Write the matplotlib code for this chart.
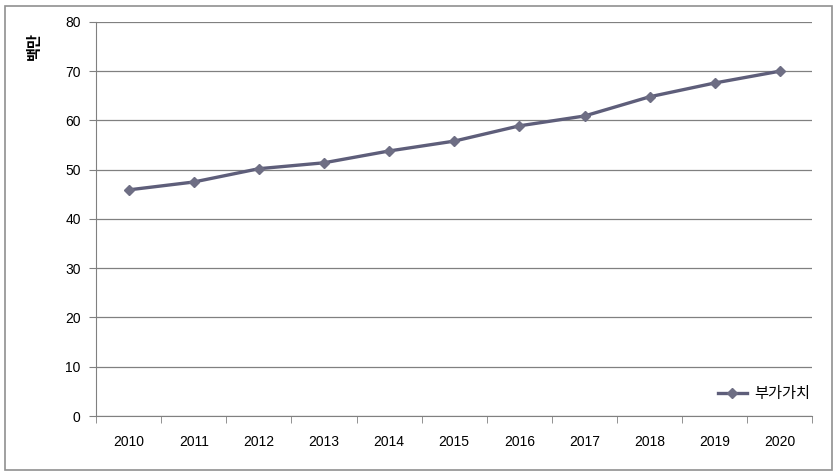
import numpy as np
import matplotlib.pyplot as plt
from matplotlib.patches import Rectangle

plt.rcParams['font.family'] = ['Liberation Sans', 'Noto Sans CJK KR', 'DejaVu Sans']

# data ---------------------------------------------------------------------------------

years = ['2010', '2011', '2012', '2013', '2014', '2015',
         '2016', '2017', '2018', '2019', '2020']
value_added = [45.9, 47.5, 50.2, 51.4, 53.8, 55.8, 58.9, 60.9, 64.8, 67.6, 70.0]
y_ticks = [0, 10, 20, 30, 40, 50, 60, 70, 80]

# plot ---------------------------------------------------------------------------------

fig = plt.figure(figsize=(8.37, 4.76), dpi=100)
ax = fig.add_axes([0.1147, 0.126, 0.856, 0.828])

x = np.arange(len(years))
ax.plot(x, value_added, color='#5e5e7a', lw=2.4, marker='D', ms=5,
        mfc='#6e6e84', mec='#6e6e84', label='부가가치', zorder=3)

ax.set_xlim(-0.5, len(years) - 0.5)
ax.set_ylim(0, 80)
ax.set_yticks(y_ticks)
ax.set_xticks(x)
ax.set_xticklabels(years)
ax.set_xticks(np.arange(len(years) + 1) - 0.5, minor=True)
ax.tick_params(axis='x', which='major', length=0, pad=14, labelsize=10)
ax.tick_params(axis='x', which='minor', length=5, color='#808080', direction='out')
ax.tick_params(axis='y', length=5, color='#808080', labelsize=10, pad=6)

ax.grid(axis='y', color='#808080', lw=0.9)
ax.set_axisbelow(True)
for side in ['top', 'right']:
    ax.spines[side].set_visible(False)
for side in ['left', 'bottom']:
    ax.spines[side].set_color('#808080')

ax.set_ylabel('백만', fontsize=11, fontweight='bold', family=['Noto Sans CJK KR'],
              labelpad=2)
ax.yaxis.set_label_coords(-0.075, 0.94)

ax.legend(loc='lower right', frameon=False, handlelength=1.9, handletextpad=0.5,
          prop={'family': ['Noto Sans CJK KR'], 'size': 11},
          bbox_to_anchor=(1.016, 0.0))

fig.patches.append(Rectangle((0.006, 0.012), 0.988, 0.976, transform=fig.transFigure,
                             fill=False, edgecolor='#909090', lw=1.2))

fig.savefig('out.png', dpi=100)
